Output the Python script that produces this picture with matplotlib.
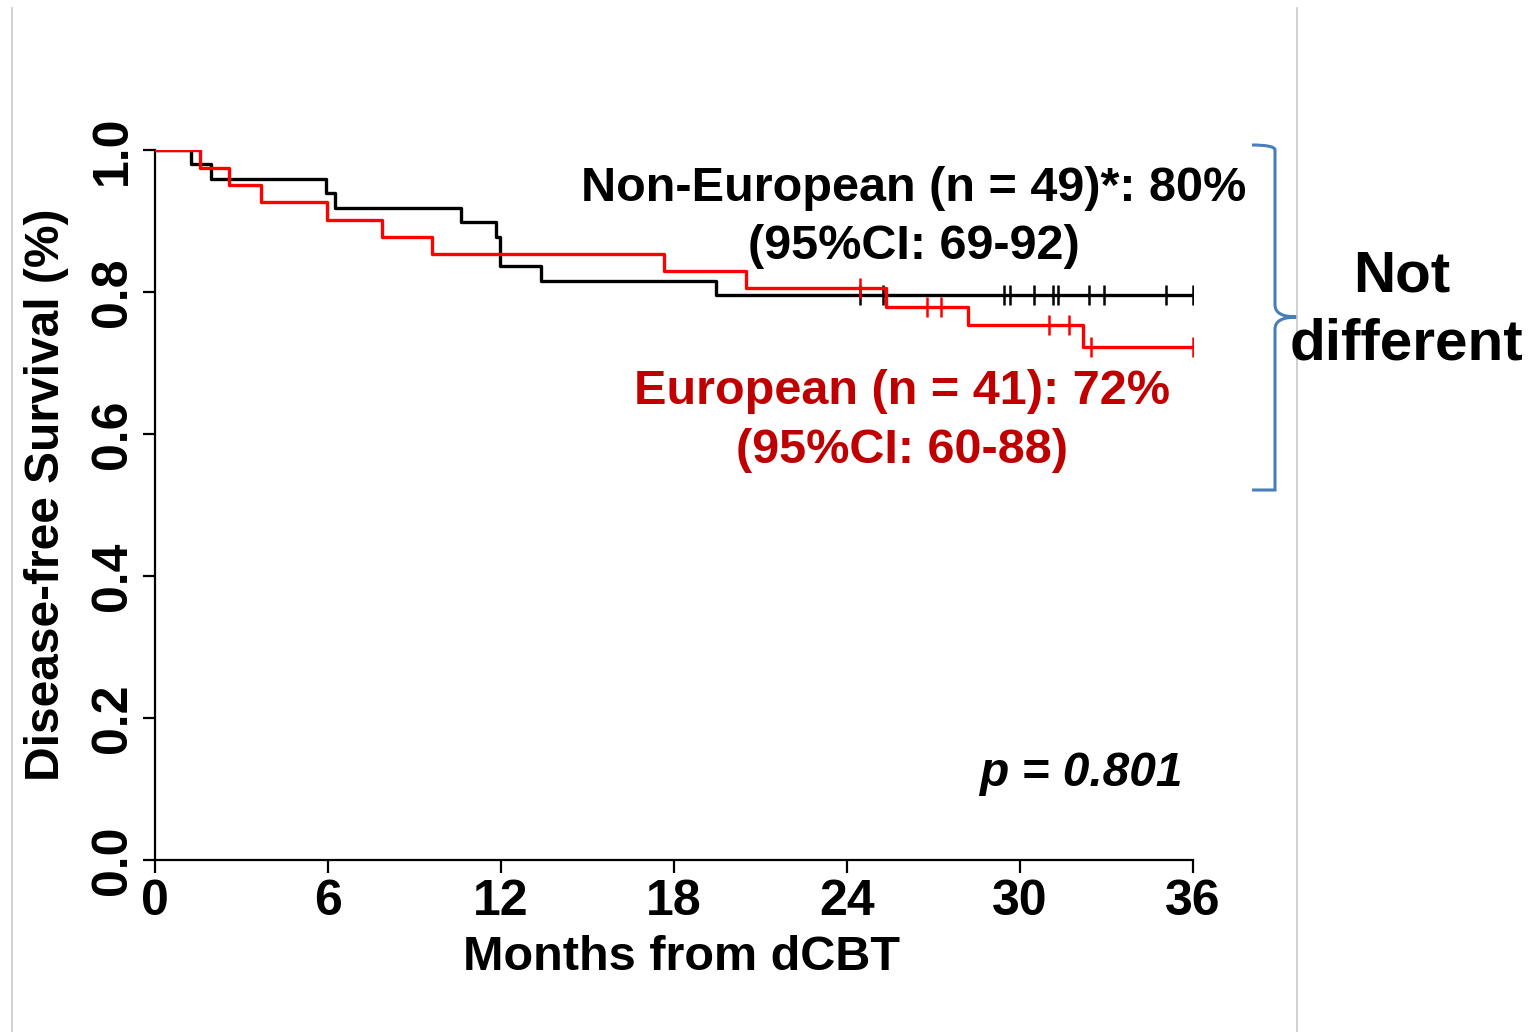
import matplotlib
matplotlib.use("Agg")
import matplotlib.pyplot as plt
from matplotlib.lines import Line2D
from matplotlib.path import Path
from matplotlib.patches import PathPatch
import numpy as np

plt.rcParams['font.family'] = ['Liberation Sans', 'DejaVu Sans']
plt.rcParams['font.weight'] = 'bold'

# Kaplan-Meier steps (month, survival after the drop)
noneu_times = [0, 1.24, 1.94, 5.92, 6.24, 10.6, 11.82, 11.97, 13.39, 19.45, 36.0]
noneu_surv = [1.0, 0.980, 0.959, 0.939, 0.918, 0.898, 0.878, 0.837, 0.816, 0.796, 0.796]
noneu_cens = [24.45, 25.24, 29.46, 29.67, 30.49, 31.16, 31.33, 32.4, 32.93, 35.07, 36.0]

eu_times = [0, 1.56, 2.58, 3.67, 5.95, 7.86, 9.6, 17.67, 20.5, 25.36, 28.19, 32.2, 36.0]
eu_surv = [1.0, 0.975, 0.951, 0.927, 0.902, 0.878, 0.854, 0.829, 0.805, 0.779, 0.754, 0.723, 0.723]
eu_cens = [24.45, 26.79, 27.25, 31.02, 31.71, 32.45, 36.0]

xticks = [0, 6, 12, 18, 24, 30, 36]
yticks = [0.0, 0.2, 0.4, 0.6, 0.8, 1.0]

W, H = 1540, 1032
fig = plt.figure(figsize=(W / 100, H / 100), dpi=100)
ax = fig.add_axes([155 / W, 1 - 860 / H, 1038 / W, 710 / H])

def surv_at(times, surv, t):
    idx = np.searchsorted(times, t, side='right') - 1
    return surv[idx]

ax.step(noneu_times, noneu_surv, where='post', color='black', lw=2.4, zorder=3)
ax.step(eu_times, eu_surv, where='post', color='#ff0000', lw=2.4, zorder=4)
ax.plot(noneu_cens, [surv_at(noneu_times, noneu_surv, t) for t in noneu_cens],
        ls='none', marker='|', ms=15, mew=1.8, color='black', zorder=3)
ax.plot(eu_cens, [surv_at(eu_times, eu_surv, t) for t in eu_cens],
        ls='none', marker='|', ms=15, mew=1.8, color='#ff0000', zorder=4)

ax.set_xlim(0, 36)
ax.set_ylim(0, 1)
ax.spines['top'].set_visible(False)
ax.spines['right'].set_visible(False)
ax.spines['left'].set_linewidth(1.6)
ax.spines['bottom'].set_linewidth(1.6)
ax.set_xticks(xticks)
ax.set_xticklabels([str(t) for t in xticks], fontsize=36, fontweight='bold')
ax.set_yticks(yticks)
ax.set_yticklabels([f"{t:.1f}" for t in yticks], fontsize=36, fontweight='bold',
                   rotation=90, va='center')
ax.tick_params(axis='both', direction='out', length=9, width=1.6, pad=5)
ax.set_xlabel("Months from dCBT", fontsize=35, fontweight='bold', labelpad=7)
ax.xaxis.label.set_x(0.507)
ax.set_ylabel("Disease-free Survival (%)", fontsize=34.5, fontweight='bold', labelpad=15)
ax.yaxis.label.set_y(0.514)

ax.text(0.731, 0.946, "Non-European (n = 49)*: 80%", transform=ax.transAxes,
        ha='center', va='center', fontsize=35, fontweight='bold', color='black')
ax.text(0.731, 0.864, "(95%CI: 69-92)", transform=ax.transAxes,
        ha='center', va='center', fontsize=35, fontweight='bold', color='black')
ax.text(0.72, 0.66, "European (n = 41): 72%", transform=ax.transAxes,
        ha='center', va='center', fontsize=35, fontweight='bold', color='#c00000')
ax.text(0.72, 0.577, "(95%CI: 60-88)", transform=ax.transAxes,
        ha='center', va='center', fontsize=35, fontweight='bold', color='#c00000')
ax.text(0.99, 0.122, "p = 0.801", transform=ax.transAxes, ha='right', va='center',
        fontsize=34.5, fontweight='bold', style='italic')

# slide decorations: thin grey borders
for xp in (12, 1297):
    fig.add_artist(Line2D([xp / W, xp / W], [0, 1 - 8 / H], color='#c8c8c8', lw=1.2))

# blue curly bracket
def fpt(x, y):
    return (x / W, 1 - y / H)

verts = [fpt(1252, 145), fpt(1275, 145), fpt(1275, 150), fpt(1275, 160),
         fpt(1275, 305), fpt(1275, 317), fpt(1297, 317),
         fpt(1275, 317), fpt(1275, 329),
         fpt(1275, 480), fpt(1275, 490), fpt(1275, 490), fpt(1252, 490)]
codes = [Path.MOVETO, Path.CURVE3, Path.CURVE3, Path.LINETO,
         Path.LINETO, Path.CURVE3, Path.CURVE3,
         Path.CURVE3, Path.CURVE3,
         Path.LINETO, Path.CURVE3, Path.CURVE3, Path.LINETO]
bracket = PathPatch(Path(verts, codes), transform=fig.transFigure, fill=False,
                    edgecolor='#4a7ebb', lw=2.2)
fig.add_artist(bracket)

fig.text(1402 / W, 1 - 277 / H, "Not", ha='center', va='center', fontsize=42,
         fontweight='bold')
fig.text(1406 / W, 1 - 345 / H, "different", ha='center', va='center', fontsize=42,
         fontweight='bold')

fig.savefig("out.png", dpi=100)
